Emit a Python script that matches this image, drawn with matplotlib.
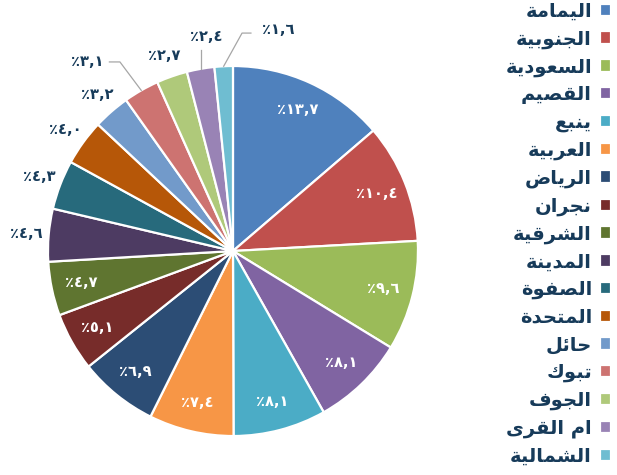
import numpy as np
import matplotlib.pyplot as plt

# data (percent)
names = ['اليمامة', 'الجنوبية', 'السعودية', 'القصيم', 'ينبع', 'العربية', 'الرياض',
         'نجران', 'الشرقية', 'المدينة', 'الصفوة', 'المتحدة', 'حائل', 'تبوك',
         'الجوف', 'ام القرى', 'الشمالية']
values = [13.7, 10.4, 9.6, 8.1, 8.1, 7.4, 6.9, 5.1, 4.7, 4.6, 4.3, 4.0, 3.2, 3.1,
          2.7, 2.4, 1.6]
colors = ['#4F81BD', '#C0504D', '#9BBB59', '#8064A2', '#4BACC6', '#F79646',
          '#2C4D75', '#772C2A', '#5F7530', '#4D3B62', '#276A7C', '#B65708',
          '#729ACA', '#CD7371', '#AFC97A', '#9983B5', '#6FBDD1']

navy = '#173B5A'

# matplotlib has no arabic shaping: pick presentation forms and reverse
# (isolated, final, initial, medial) start at base
BASE = {'ا': (0xFE8D, 2), 'ب': (0xFE8F, 4), 'ة': (0xFE93, 2), 'ت': (0xFE95, 4),
        'ج': (0xFE9D, 4), 'ح': (0xFEA1, 4), 'د': (0xFEA9, 2), 'ر': (0xFEAD, 2),
        'ز': (0xFEAF, 2), 'س': (0xFEB1, 4), 'ش': (0xFEB5, 4), 'ص': (0xFEB9, 4),
        'ض': (0xFEBD, 4), 'ع': (0xFEC9, 4), 'ف': (0xFED1, 4), 'ق': (0xFED5, 4),
        'ك': (0xFED9, 4), 'ل': (0xFEDD, 4), 'م': (0xFEE1, 4), 'ن': (0xFEE5, 4),
        'ه': (0xFEE9, 4), 'و': (0xFEED, 2), 'ى': (0xFEEF, 2), 'ي': (0xFEF1, 4),
        'ئ': (0xFE89, 4)}


def shape(word):
    out = []
    for i, ch in enumerate(word):
        if ch not in BASE:
            out.append(ch)
            continue
        base, n = BASE[ch]
        prev = word[i - 1] if i > 0 else ''
        nxt = word[i + 1] if i + 1 < len(word) else ''
        jp = prev in BASE and BASE[prev][1] == 4
        jn = n == 4 and nxt in BASE
        off = 3 if (jp and jn) else 1 if jp else 2 if jn else 0
        out.append(chr(base + off))
    return ''.join(out)[::-1]


AR_DIGITS = str.maketrans('0123456789', '٠١٢٣٤٥٦٧٨٩')


def pct(v):
    a, b = f'{v:.1f}'.split('.')
    return '٪' + a.translate(AR_DIGITS) + ',' + b.translate(AR_DIGITS)


plt.rcParams['font.family'] = ['DejaVu Sans']

fig = plt.figure(figsize=(6.17, 4.75), dpi=100)
ax = fig.add_axes([0.0028, -0.0153, 0.7496, 0.9737])

wedges, _ = ax.pie(values, colors=colors, startangle=90, counterclock=False,
                   wedgeprops=dict(edgecolor='white', linewidth=1.6))
ax.set_xlim(-1.25, 1.25)
ax.set_ylim(-1.25, 1.25)
ax.axis('off')

# labels with leader lines: text position, elbow points (or None = vertical)
leader = {13: ((-0.79, 1.022), [(-0.611, 1.022), (-0.668, 1.022)]),
          15: ((-0.146, 1.157), None),
          16: ((0.243, 1.195), [(0.049, 1.178), (0.097, 1.178)])}

lab = dict(fontsize=10.5, fontweight='bold', ha='center', va='center')
for i, (w, v) in enumerate(zip(wedges, values)):
    ang = np.deg2rad((w.theta1 + w.theta2) / 2)
    cx, cy = np.cos(ang), np.sin(ang)
    if v >= 4.7:
        ax.text(0.84 * cx, 0.84 * cy, pct(v), color='white', **lab)
    elif i in leader:
        (tx, ty), pts = leader[i]
        ax.text(tx, ty, pct(v), color=navy, **lab)
        if pts is None:
            xs, ys = [cx, cx], [cy, ty - 0.07]
        else:
            xs = [cx] + [p[0] for p in pts]
            ys = [cy] + [p[1] for p in pts]
        ax.plot(xs, ys, color='#A6A6A6', lw=0.9)
    else:
        ax.text(1.12 * cx, 1.12 * cy, pct(v), color=navy, **lab)

leg = fig.legend(wedges, [shape(n) for n in names], loc='upper right',
                 bbox_to_anchor=(1.013, 1.025), frameon=False, markerfirst=False,
                 handlelength=0.6, handleheight=0.6, handletextpad=0.4,
                 labelspacing=0.44, borderpad=0.2,
                 prop=dict(size=14, weight='bold'))
for t in leg.get_texts():
    t.set_color(navy)

fig.savefig('out.png', dpi=100)
